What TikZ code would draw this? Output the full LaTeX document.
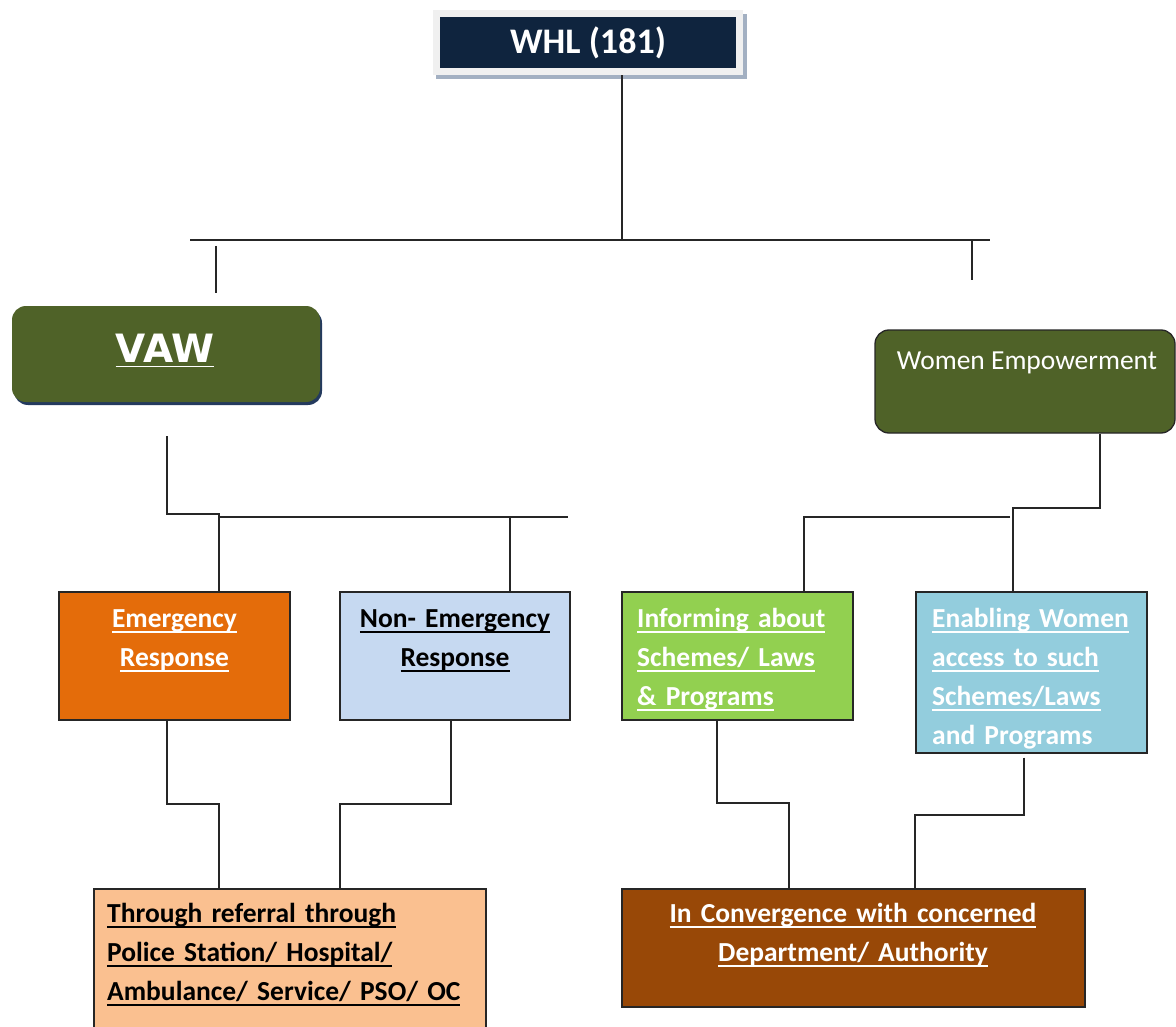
\documentclass[tikz,border=0pt]{standalone}
\usepackage{fontspec}
\setmainfont{Carlito}
\newfontfamily\dejavu{DejaVu Sans}
\usetikzlibrary{calc}
\definecolor{navy}{HTML}{0F243E}
\definecolor{framec}{HTML}{F0F0F0}
\definecolor{shadowc}{HTML}{A3B0C2}
\definecolor{olive}{HTML}{4F6228}
\definecolor{vawshadow}{HTML}{243A5E}
\definecolor{orangeb}{HTML}{E46C0A}
\definecolor{lightblue}{HTML}{C6D9F1}
\definecolor{greenb}{HTML}{92D050}
\definecolor{aqua}{HTML}{93CDDD}
\definecolor{peach}{HTML}{FAC090}
\definecolor{brownb}{HTML}{984807}
\newcommand\ulx[1]{\leavevmode\setbox0\hbox{#1}\rlap{\rule[-5.5pt]{\wd0}{1.6pt}}\box0}
\tikzset{
  conn/.style={line width=1.3pt, draw=black!85},
  boxx/.style={draw=black!85, line width=1.3pt, inner sep=0pt},
  txt/.style={inner sep=0pt, font=\fontsize{27.5}{39}\selectfont\bfseries},
}
\begin{document}
\begin{tikzpicture}[x=1pt,y=-1pt]
\useasboundingbox (0,0) rectangle (1176,1027);
% ---- top box
\fill[shadowc] (436,14) rectangle (747,79);
\node[fill=navy, draw=framec, line width=7pt, minimum width=303pt, minimum height=58pt, inner sep=0pt,
      text=white, font=\fontsize{36}{40}\selectfont\bfseries] (whl) at (588,43) {WHL (181)};
% ---- second level
\fill[vawshadow, rounded corners=14pt] (14,309) rectangle (322,405);
\node[fill=olive, rounded corners=14pt, minimum width=308pt, minimum height=96pt, inner sep=0pt] (vaw) at (166,354) {};
\node[inner sep=0pt, anchor=base, text=white, font=\dejavu\fontsize{39}{44}\selectfont\bfseries] (vawT) at (165,362) {\ulx{VAW}};
\node[boxx, fill=olive, rounded corners=14pt, minimum width=300pt, minimum height=103pt] (we) at (1025,381.5) {};
\node[inner sep=0pt, anchor=base, text=white, font=\fontsize{27.5}{33}\selectfont] (weT) at (1027,369) {Women Empowerment};
% ---- third level
\node[boxx, fill=orangeb, minimum width=231pt, minimum height=128pt] (emg) at (174.5,656) {};
\node[txt, text=white, text width=231pt, align=center, anchor=base] (emgT) at (174.5,627) {\ulx{Emergency}\\\ulx{Response}};
\node[boxx, fill=lightblue, minimum width=230pt, minimum height=128pt] (nem) at (455,656) {};
\node[txt, text=black, text width=230pt, align=center, anchor=base] (nemT) at (455,627) {\ulx{Non- Emergency}\\\ulx{Response}};
\node[boxx, fill=greenb, minimum width=231pt, minimum height=128pt] (inf) at (737.5,656) {};
\node[txt, text=white, text width=214pt, align=left, anchor=base west] (infT) at (637,627) {\ulx{Informing about}\\\ulx{Schemes/ Laws}\\\ulx{\&\ Programs}};
\node[boxx, fill=aqua, minimum width=231pt, minimum height=161pt] (enb) at (1031.5,672.5) {};
\begin{scope}
\clip (enb.north west) rectangle ($(enb.south east)+(0,-3)$);
\node[txt, text=white, text width=214pt, align=left, anchor=base west] (enbT) at (932,627) {\ulx{Enabling Women}\\\ulx{access to such}\\\ulx{Schemes/Laws}\\and Programs};
\end{scope}
\draw[boxx] (enb.north west) rectangle (enb.south east);
% ---- bottom level
\node[boxx, fill=peach, minimum width=392pt, minimum height=150pt] (ref) at (290,964) {};
\node[txt, text=black, text width=380pt, align=left, anchor=base west] (refT) at (107,922) {\ulx{Through referral through}\\\ulx{Police Station/ Hospital/}\\\ulx{Ambulance/ Service/ PSO/ OC}};
\node[boxx, fill=brownb, minimum width=463pt, minimum height=118pt] (con) at (853.5,948) {};
\node[txt, text=white, text width=463pt, align=center, anchor=base] (conT) at (853,922) {\ulx{In Convergence with concerned}\\\ulx{Department/ Authority}};
% ---- connectors
\coordinate (t1) at (622,240);
\draw[conn] (whl.south -| t1) -- (t1);
\coordinate (busL) at (190,240);
\coordinate (busR) at (990,240);
\draw[conn] (busL) -- (busR);
\coordinate (tk1a) at (216,246); \coordinate (tk1b) at (216,293);
\draw[conn] (tk1a) -- (tk1b);
\coordinate (tk2a) at (972,240); \coordinate (tk2b) at (972,280);
\draw[conn] (tk2a) -- (tk2b);
% VAW branch
\coordinate (va1) at (167,436);
\coordinate (j1) at (219,514);
\draw[conn] (va1) |- (j1) -- (j1 |- emg.north);
\coordinate (b2L) at (219,517);
\coordinate (b2R) at (568,517);
\draw[conn] (b2L) -- (b2R);
\coordinate (j2) at (510,517);
\draw[conn] (j2) -- (j2 |- nem.north);
% Women empowerment branch
\coordinate (j3) at (1100,508);
\coordinate (j4) at (1013,508);
\draw[conn] (we.south -| j3) -- (j3) -- (j4) -- (j4 |- enb.north);
\coordinate (j5) at (804,517);
\coordinate (j6) at (1010,517);
\draw[conn] (j6) -- (j5) -- (j5 |- inf.north);
% lower connectors
\coordinate (k1) at (167,804); \coordinate (k2) at (219,804);
\draw[conn] (k1 |- emg.south) -- (k1) -- (k2) -- (k2 |- ref.north);
\coordinate (k3) at (451,804); \coordinate (k4) at (340,804);
\draw[conn] (k3 |- nem.south) -- (k3) -- (k4) -- (k4 |- ref.north);
\coordinate (k5) at (717,803); \coordinate (k6) at (789,803);
\draw[conn] (k5 |- inf.south) -- (k5) -- (k6) -- (k6 |- con.north);
\coordinate (k7) at (1024,815); \coordinate (k8) at (915,815);
\draw[conn] ($(k7 |- enb.south)+(0,4)$) -- (k7) -- (k8) -- (k8 |- con.north);
\end{tikzpicture}
\end{document}
